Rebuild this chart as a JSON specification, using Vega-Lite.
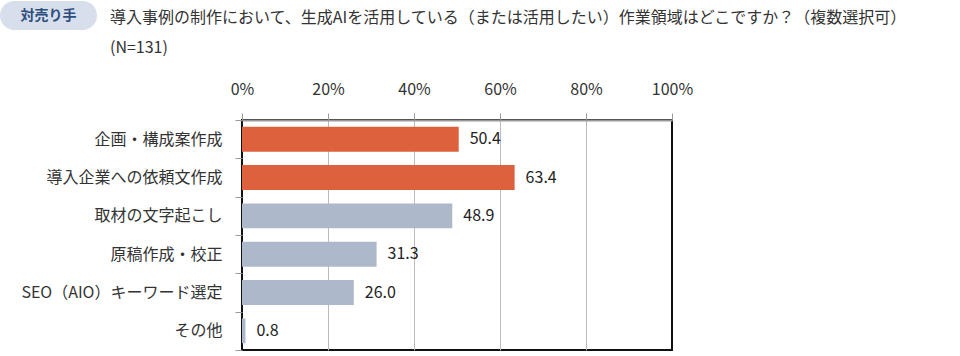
{
  "$schema": "https://vega.github.io/schema/vega-lite/v6.json",
  "background": "white",
  "padding": {"left": 0, "top": 1, "right": 0, "bottom": 0},
  "config": {
    "font": "Noto Sans CJK JP",
    "view": {"stroke": null},
    "axis": {"labelFont": "Noto Sans CJK JP"}
  },
  "bounds": "flush",
  "columns": 2,
  "spacing": {"row": 90, "column": 145},
  "concat": [
    {
      "width": 97,
      "height": 29,
      "view": {"fill": "#D6DFEB", "cornerRadius": 14.5, "stroke": null},
      "data": {"values": [{"label": "対売り手"}]},
      "mark": {"type": "text", "fontWeight": "bold", "fontSize": 14, "color": "#2D4E7E", "baseline": "middle"},
      "encoding": {"text": {"field": "label"}}
    },
    {
      "width": 1,
      "height": 1,
      "data": {"values": [{}]},
      "mark": {"type": "rect", "opacity": 0}
    },
    {
      "width": 1,
      "height": 1,
      "data": {"values": [{}]},
      "mark": {"type": "rect", "opacity": 0}
    },
    {
      "width": 430,
      "height": 230,
      "title": {
        "text": "導入事例の制作において、生成AIを活用している（または活用したい）作業領域はどこですか？（複数選択可）",
        "subtitle": "(N=131)",
        "anchor": "start",
        "frame": "group",
        "dx": -132,
        "offset": 25,
        "font": "Noto Sans CJK JP",
        "fontSize": 16,
        "fontWeight": "normal",
        "color": "#333333",
        "subtitleFont": "Noto Sans CJK JP",
        "subtitleFontSize": 16,
        "subtitleColor": "#333333",
        "subtitlePadding": 14
      },
      "view": {"stroke": "#111111", "strokeWidth": 2},
      "data": {
        "values": [
          {"item": "企画・構成案作成", "value": 50.4, "group": "A"},
          {"item": "導入企業への依頼文作成", "value": 63.4, "group": "A"},
          {"item": "取材の文字起こし", "value": 48.9, "group": "B"},
          {"item": "原稿作成・校正", "value": 31.3, "group": "B"},
          {"item": "SEO（AIO）キーワード選定", "value": 26.0, "group": "B"},
          {"item": "その他", "value": 0.8, "group": "B"}
        ]
      },
      "encoding": {
        "y": {
          "field": "item",
          "type": "nominal",
          "sort": null,
          "scale": {"paddingInner": 0, "paddingOuter": 0},
          "axis": {
            "title": null,
            "tickBand": "extent",
            "tickSize": 7,
            "tickColor": "#999999",
            "domain": false,
            "labelFontSize": 16,
            "labelColor": "#333333",
            "labelPadding": 13,
            "labelLimit": 400
          }
        },
        "x": {
          "field": "value",
          "type": "quantitative",
          "scale": {"domain": [0, 100], "nice": false},
          "axis": {
            "orient": "top",
            "title": null,
            "values": [0, 20, 40, 60, 80, 100],
            "labelExpr": "datum.value + '%'",
            "labelFontSize": 16,
            "labelColor": "#333333",
            "labelPadding": 16,
            "labelFlush": false,
            "tickSize": 7,
            "tickColor": "#999999",
            "domainColor": "#999999",
            "domainWidth": 2,
            "grid": true,
            "gridColor": {"condition": {"test": "datum.value === 0 || datum.value === 100", "value": "transparent"}, "value": "#BBBBBB"}
          }
        }
      },
      "layer": [
        {
          "mark": {"type": "bar", "height": {"band": 0.65}},
          "encoding": {
            "color": {
              "field": "group",
              "type": "nominal",
              "scale": {"domain": ["A", "B"], "range": ["#DE613E", "#ADB8CB"]},
              "legend": null
            }
          }
        },
        {
          "mark": {"type": "text", "align": "left", "baseline": "middle", "dx": 11, "fontSize": 16, "color": "#222222"},
          "encoding": {"text": {"field": "value", "type": "quantitative", "format": ".1f"}}
        }
      ]
    }
  ]
}
